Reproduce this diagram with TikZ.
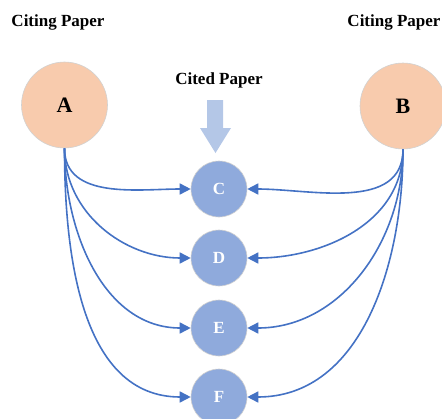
\documentclass[tikz,border=0pt]{standalone}
\usepackage{fontspec}
\setmainfont{Liberation Serif}
\usetikzlibrary{arrows.meta}
\definecolor{citing}{HTML}{F8CBAD}
\definecolor{cited}{HTML}{8FAADC}
\definecolor{link}{HTML}{4472C4}
\definecolor{pointer}{HTML}{B4C7E7}
\tikzset{
  citingnode/.style={circle,fill=citing,draw=black!18,line width=0.6pt,minimum size=86pt,inner sep=0pt,font=\fontsize{22}{22}\selectfont\bfseries},
  citednode/.style={circle,fill=cited,draw=black!18,line width=0.6pt,minimum size=56pt,inner sep=0pt,text=white,font=\fontsize{17}{17}\selectfont\bfseries},
  caption/.style={font=\fontsize{17}{17}\selectfont\bfseries},
  cite/.style={draw=link,line width=1.6pt,-{Triangle[length=11pt,width=11pt]}},
}
\begin{document}
\begin{tikzpicture}[x=1pt,y=-1pt]
\useasboundingbox (0,0) rectangle (442,418);
% captions
\node[caption] (lt) at (58,22) {Citing Paper};
\node[caption] (rt) at (394,22) {Citing Paper};
\node[caption] (ct) at (219,80) {Cited Paper};
% citing papers
\node[citingnode] (A) at (64.5,105) {A};
\node[citingnode] (B) at (403,106) {B};
% cited papers
\node[citednode] (C) at (219,189) {C};
\node[citednode] (D) at (219,258) {D};
\node[citednode] (E) at (219,328) {E};
\node[citednode] (F) at (219,397) {F};
% block arrow pointing down into the cited column
\fill[pointer] (207,100) -- (223,100) -- (223,128) -- (231,128)
  -- (215.5,153) -- (200,128) -- (207,128) -- cycle;
% citation links
\foreach \t in {C,D,E,F}{
  \draw[cite] (A.south) to[out=-90,in=180] (\t.west);
  \draw[cite] (B.south) to[out=-90,in=0] (\t.east);
}
\end{tikzpicture}
\end{document}
